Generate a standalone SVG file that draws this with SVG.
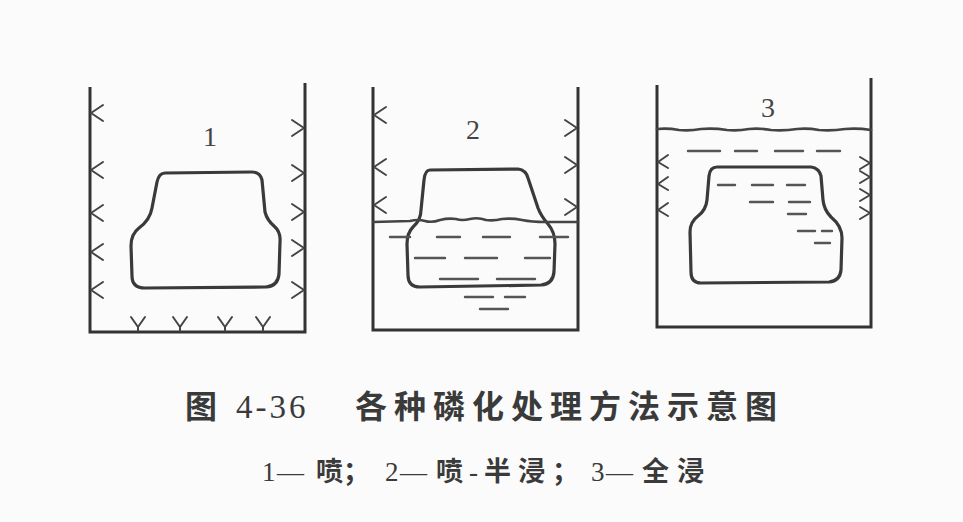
<svg xmlns="http://www.w3.org/2000/svg" width="963" height="522" viewBox="0 0 963 522">
  <defs>
    <style>
      .wall { fill: none; stroke: #333; stroke-width: 3; stroke-linejoin: miter; }
      .body { fill: none; stroke: #3a3a3a; stroke-width: 3.2; stroke-linejoin: round; }
      .liquid { fill: none; stroke: #444; stroke-width: 2.6; stroke-linecap: round; }
      .dash { fill: none; stroke: #555; stroke-width: 2.4; stroke-linecap: round; }
      .spray { fill: none; stroke: #444; stroke-width: 2; stroke-linecap: round; stroke-linejoin: round; }
      .num { font-family: "Liberation Serif", serif; font-size: 28px; fill: #444; text-anchor: middle; }
      .cap { font-family: "Liberation Serif", "Noto Sans CJK SC", serif; fill: #3a3a3a; }
      .cjk { font-family: "Noto Sans CJK SC", sans-serif; font-weight: 700; }
    </style>
    <!-- nozzle spray marks: vertex sits on the wall -->
    <path id="spray-l" class="spray" d="M 12 -8 L 0 0 L 12 8"/>
    <path id="spray-r" class="spray" d="M -12 -8 L 0 0 L -12 8"/>
    <path id="spray-b" class="spray" d="M -7 -14 L 0 -4 L 7 -14 M 0 -4 L 0 0"/>
    <path id="spray-l3" class="spray" d="M 10 -7 L 0 0 L 10 6"/>
    <path id="spray-r3" class="spray" d="M -10 -6 L 0 0 L -10 6"/>
  </defs>

  <rect width="963" height="522" fill="#fbfbfb"/>

  <!-- 1: spraying -->
  <g id="tank-1">
    <path class="wall" d="M 90 87 V 332 H 305 V 83"/>
    <use href="#spray-l" x="91" y="113"/>
    <use href="#spray-l" x="91" y="170"/>
    <use href="#spray-l" x="91" y="213"/>
    <use href="#spray-l" x="91" y="252"/>
    <use href="#spray-l" x="91" y="290"/>
    <use href="#spray-r" x="304" y="128"/>
    <use href="#spray-r" x="304" y="173"/>
    <use href="#spray-r" x="304" y="212"/>
    <use href="#spray-r" x="304" y="248"/>
    <use href="#spray-r" x="304" y="290"/>
    <use href="#spray-b" x="138" y="331"/>
    <use href="#spray-b" x="180" y="331"/>
    <use href="#spray-b" x="225" y="331"/>
    <use href="#spray-b" x="263" y="331"/>
    <text class="num" x="210" y="146">1</text>
    <path class="body" d="M 165 173 L 252 172 Q 260 172 262 180 L 265 212 Q 267 220 274 226 Q 281 232 280 242 L 279 274 Q 278 286 266 287 L 145 288 Q 132 288 132 276 L 131 246 Q 131 234 139 228 Q 150 220 152 208 L 157 182 Q 159 173 165 173 Z"/>
  </g>

  <!-- 2: spraying plus half immersion -->
  <g id="tank-2">
    <path class="wall" d="M 373 87 V 330 H 578 V 87"/>
    <use href="#spray-l" x="374" y="115"/>
    <use href="#spray-l" x="374" y="167"/>
    <use href="#spray-l" x="374" y="205"/>
    <use href="#spray-r" x="577" y="128"/>
    <use href="#spray-r" x="577" y="165"/>
    <use href="#spray-r" x="577" y="207"/>
    <text class="num" x="473" y="139">2</text>
    <path class="body" d="M 430 170 L 518 169 Q 526 170 528 178 L 538 208 Q 541 216 548 224 Q 555 232 555 244 L 554 272 Q 553 284 541 285 L 420 287 Q 408 287 408 275 L 407 244 Q 407 233 413 227 Q 421 220 421 210 L 424 180 Q 425 170 430 170 Z"/>
    <path class="liquid" d="M 373 222 L 410 221 Q 418 219 425 221 Q 432 223 440 220 Q 448 218 456 219 Q 462 221 470 219 Q 478 217 486 220 Q 494 221 502 219 Q 512 218 522 220 Q 532 222 545 222 L 578 222"/>
    <path class="dash" d="M 390 237 H 410 M 437 237 H 460 M 483 237 H 510 M 540 237 H 568 M 415 258 H 445 M 465 258 H 497 M 525 258 H 550 M 440 279 H 478 M 497 279 H 535 M 465 297 H 493 M 505 297 H 525 M 480 309 H 508"/>
  </g>

  <!-- 3: full immersion -->
  <g id="tank-3">
    <path class="wall" d="M 657 85 V 327 H 871 V 78"/>
    <use href="#spray-l3" x="658" y="162"/>
    <use href="#spray-l3" x="658" y="184"/>
    <use href="#spray-l3" x="658" y="210"/>
    <use href="#spray-r3" x="870" y="163"/>
    <use href="#spray-r3" x="870" y="177"/>
    <use href="#spray-r3" x="870" y="195"/>
    <use href="#spray-r3" x="870" y="213"/>
    <text class="num" x="768" y="117">3</text>
    <path class="liquid" d="M 657 129 Q 668 128 679 130 Q 690 131 701 129 Q 714 128 727 130 Q 738 131 749 129 Q 760 128 771 130 Q 784 131 797 129 Q 808 128 819 130 Q 832 131 845 129 Q 858 128 871 130"/>
    <path class="dash" d="M 688 151 H 720 M 735 151 H 757 M 775 151 H 803 M 817 151 H 840"/>
    <path class="body" d="M 717 167 L 811 167 Q 819 168 821 176 L 823 200 Q 824 210 831 217 Q 842 226 842 238 L 841 270 Q 840 281 829 282 L 701 283 Q 691 283 691 272 L 690 232 Q 690 222 698 216 Q 706 210 707 200 L 709 176 Q 710 167 717 167 Z"/>
    <path class="dash" d="M 718 185 H 735 M 752 185 H 773 M 787 185 H 805 M 750 202 H 773 M 789 202 H 810 M 788 214 H 806 M 798 231 H 815 M 822 231 H 832 M 815 243 H 830"/>
  </g>

  <!-- caption -->
  <g id="caption">
    <text class="cap" y="418" font-size="32">
      <tspan class="cjk" x="185">图</tspan><tspan x="236" font-size="33" letter-spacing="3">4-36</tspan><tspan class="cjk" x="355" letter-spacing="7">各种磷化处理方法示意图</tspan>
    </text>
    <text class="cap" y="481" font-size="27">
      <tspan x="262">1</tspan><tspan x="277">—</tspan><tspan class="cjk" x="316">喷；</tspan><tspan x="385">2</tspan><tspan x="400">—</tspan><tspan class="cjk" x="436">喷</tspan><tspan x="469">-</tspan><tspan class="cjk" x="484" letter-spacing="7">半浸；</tspan><tspan x="591">3</tspan><tspan x="606">—</tspan><tspan class="cjk" x="642" letter-spacing="8">全浸</tspan>
    </text>
  </g>
</svg>
